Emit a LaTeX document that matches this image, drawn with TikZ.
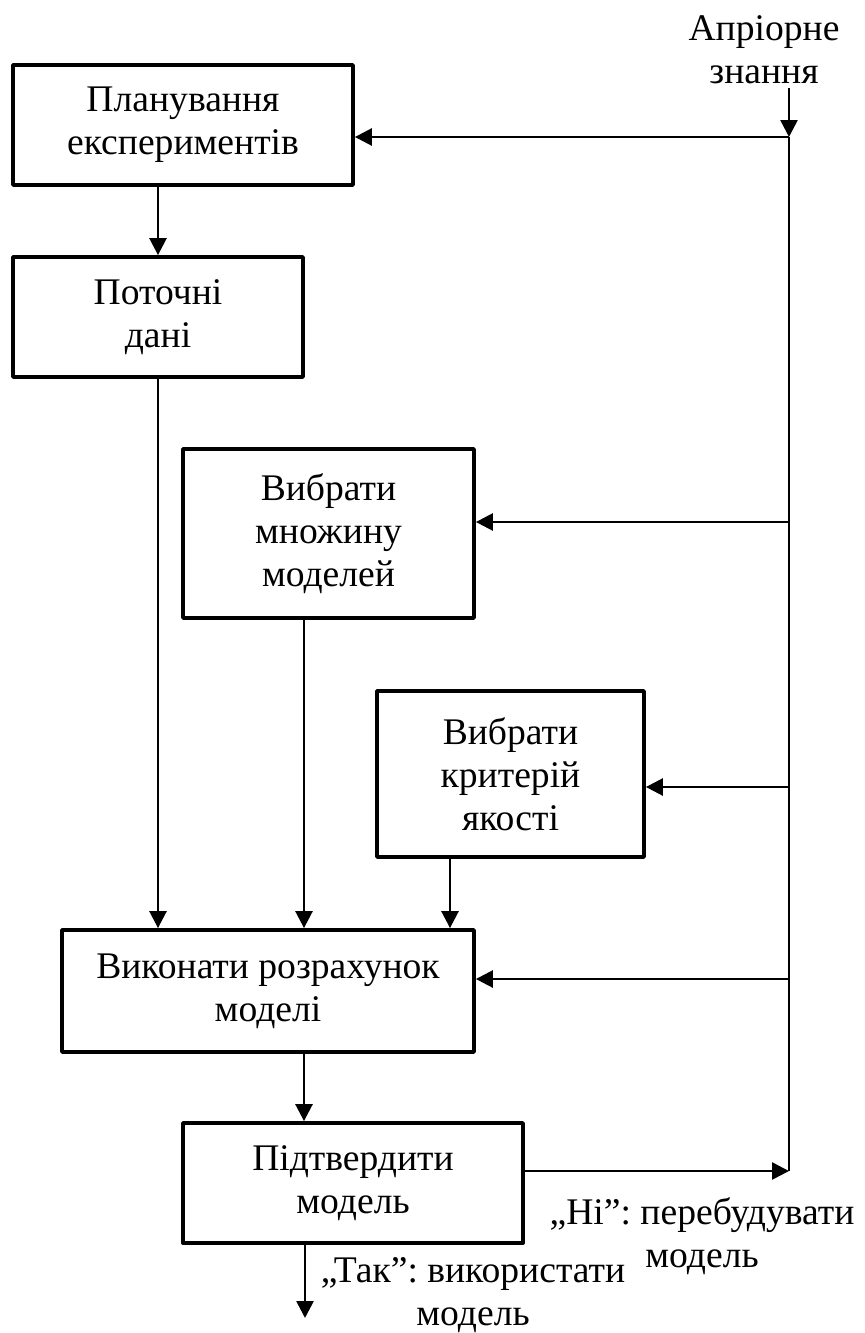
\documentclass[tikz,border=0pt]{standalone}
\usepackage{fontspec}
\setmainfont{Liberation Serif}
\usetikzlibrary{arrows.meta}
\frenchspacing
\begin{document}
\begin{tikzpicture}[x=0.5pt,y=-0.5pt,
  txt/.style={font=\fontsize{18.8}{21.5}\selectfont\frenchspacing, align=center, inner sep=0pt},
  blk/.style={txt, draw, line width=1.9pt, line join=round},
  conn/.style={line width=1.3pt},
  arr/.style={conn, -{Triangle[length=8.5pt,width=8.5pt]}}]
\useasboundingbox (0,0) rectangle (864,1333);
% boxes
\node[blk, minimum width=170pt, minimum height=60pt] (b1) at (183,125) {Планування\\експериментів};
\node[blk, minimum width=145pt, minimum height=60pt] (b2) at (158,317) {Поточні\\дані};
\node[blk, minimum width=145.5pt, minimum height=84.5pt] (b3) at (328.5,533.5) {Вибрати\\множину\\моделей};
\node[blk, minimum width=133.5pt, minimum height=83pt] (b4) at (510.5,774) {Вибрати\\критерій\\якості};
\node[blk, minimum width=206pt, minimum height=61pt] (b5) at (268,991) {Виконати розрахунок\\моделі};
\node[blk, minimum width=170pt, minimum height=60pt] (b6) at (353,1183) {Підтвердити\\модель};
% labels
\node[txt] (apr) at (764,50) {Апріорне\\знання};
\node[txt] (no) at (702,1236) {„Ні”: перебудувати\\модель};
\node[txt] (yes) at (473,1295) {„Так”: використати\\модель};
% coordinates
\coordinate (top) at (789,88);
\coordinate (j1) at (789,137);
\coordinate (j3) at (789,522);
\coordinate (j4) at (789,787);
\coordinate (j5) at (789,979);
\coordinate (bus) at (789,1171);
\coordinate (x3) at (304,0);
\coordinate (x4) at (450,0);
\coordinate (x6) at (305,0);
\coordinate (out) at (305,1318);
% connectors
\draw[arr] (top) -- (j1);
\draw[conn] (j1) -- (bus);
\draw[arr] (j1) -- (j1 -| b1.east);
\draw[arr] (j3) -- (j3 -| b3.east);
\draw[arr] (j4) -- (j4 -| b4.east);
\draw[arr] (j5) -- (j5 -| b5.east);
\draw[arr] (b6.east |- bus) -- (bus);
\draw[arr] (b1.south -| b2.north) -- (b2.north);
\draw[arr] (b2.south) -- (b5.north -| b2.south);
\draw[arr] (b3.south -| x3) -- (b5.north -| x3);
\draw[arr] (b4.south -| x4) -- (b5.north -| x4);
\draw[arr] (b5.south -| x3) -- (b6.north -| x3);
\draw[arr] (b6.south -| x6) -- (out);
\end{tikzpicture}
\end{document}
